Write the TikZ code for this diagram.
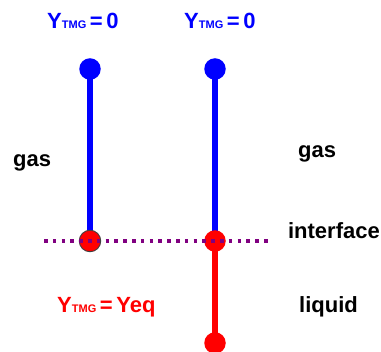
\documentclass[tikz,border=0pt]{standalone}
\usepackage{fontspec}
\setmainfont{Liberation Sans}
\usepackage{xcolor}
\usepackage{tikz}
\usetikzlibrary{positioning}
\definecolor{gasblue}{RGB}{0,0,255}
\definecolor{liqred}{RGB}{255,0,0}
\definecolor{ifpurple}{RGB}{128,0,128}
\newcommand{\tmg}{{\fontsize{11}{11}\selectfont TMG}}
\pgfdeclarelayer{bg}
\pgfsetlayers{bg,main}
\tikzset{
  lbl/.style={anchor=base west,inner sep=0pt,font=\fontsize{22}{26}\selectfont\bfseries},
  dotnode/.style={circle,inner sep=0pt,outer sep=0pt,minimum size=21.5pt},
  profile/.style={line width=6pt},
}

\begin{document}
\begin{tikzpicture}[x=1pt,y=-1pt]
  \useasboundingbox (0,0) rectangle (381,352);
  % left profile
  \node[dotnode,fill=gasblue] (ltop) at (90,69) {};
  \node[dotnode,fill=liqred,draw=black!75,line width=0.9pt] (lif) at (90,241) {};
  % right profile
  \node[dotnode,fill=gasblue] (rtop) at (215,69) {};
  \node[dotnode,fill=liqred] (rif) at (215,241) {};
  \node[dotnode,fill=liqred] (rbot) at (215,343) {};
  \begin{pgfonlayer}{bg}
    \draw[profile,gasblue] (ltop.center) -- (lif.center);
    \draw[profile,gasblue] (rtop.center) -- (rif.center);
    \draw[profile,liqred] (rif.center) -- (rbot.center);
  \end{pgfonlayer}
  % interface line
  \coordinate (ifl) at (44,241);
  \coordinate (ifr) at (272,241);
  \draw[ifpurple,line width=3.6pt,dash pattern=on 3.6pt off 5.2pt] (ifl) -- (ifr);
  % labels
  \node[lbl,gasblue] (ly) at (47,29) {Y\tmg\,=\,0};
  \node[lbl,gasblue] (ry) at (184,29) {Y\tmg\,=\,0};
  \node[lbl] (lgas) at (13,167) {gas};
  \node[lbl] (rgas) at (298,158) {gas};
  \node[lbl,anchor=base east] (iflbl) at (380,239) {interface};
  \node[lbl] (liq) at (299,313) {liquid};
  \node[lbl,liqred] (yeq) at (57,313) {Y\tmg\,=\,Yeq};
\end{tikzpicture}
\end{document}
